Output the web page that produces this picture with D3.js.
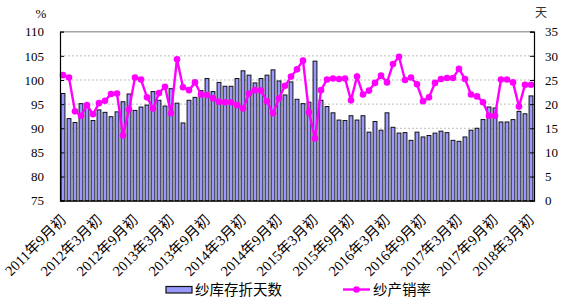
<!DOCTYPE html>
<html>
<head>
<meta charset="utf-8">
<script src="https://cdn.jsdelivr.net/npm/d3@7"></script>
<style>
  body { margin: 0; background: #fff; }
  svg { display: block; }
</style>
</head>
<body>
<svg id="chart" width="565" height="301"></svg>
<script>
"use strict";

// monthly, 2011-09 .. 2018-03
const startYear = 2011, startMonth = 9;
const monthCount = 79;

// 纱库存折天数 (right axis, days)
const inventoryDays = [
    22.2, 17.0, 16.2, 20.1, 19.3, 16.6, 18.8, 18.3, 17.4, 18.4,
    20.5, 22.1, 18.7, 19.4, 19.8, 22.6, 20.8, 19.6, 23.2, 20.2,
    16.1, 20.8, 21.4, 22.8, 25.3, 22.6, 24.5, 23.7, 23.7, 25.3,
    26.9, 26.0, 24.4, 25.3, 26.0, 27.1, 24.8, 21.9, 24.6, 21.0,
    20.1, 20.4, 28.9, 20.8, 19.5, 18.2, 16.7, 16.6, 17.6, 16.7,
    17.6, 14.2, 16.4, 14.6, 18.2, 15.2, 14.0, 14.1, 12.5, 14.2,
    13.2, 13.5, 14.0, 14.4, 14.1, 12.5, 12.3, 13.2, 14.6, 15.0,
    16.8, 19.4, 19.2, 16.3, 16.3, 16.8, 18.5, 18.0, 21.7
];

// 纱产销率 (left axis, %)
const salesRate = [
    101.0, 100.5, 93.5, 92.6, 94.8, 92.9, 95.2, 95.7, 97.1, 97.2,
    88.5, 93.9, 100.5, 100.1, 96.4, 94.1, 97.3, 98.6, 93.1, 104.3,
    98.5, 97.9, 99.5, 97.0, 96.9, 96.2, 95.5, 95.4, 95.4, 94.8,
    94.1, 97.2, 97.9, 97.8, 95.6, 93.1, 96.2, 98.8, 100.7, 102.2,
    104.0, 93.3, 87.9, 97.9, 100.1, 100.3, 100.2, 100.3, 95.8, 100.7,
    97.0, 97.8, 99.4, 100.9, 99.5, 103.3, 104.8, 100.0, 100.5, 99.1,
    95.6, 96.4, 99.4, 100.2, 100.4, 100.4, 102.3, 100.2, 97.0, 96.6,
    95.4, 92.6, 92.6, 100.1, 100.1, 99.5, 94.5, 99.0, 99.0
];

const leftTicks = [75, 80, 85, 90, 95, 100, 105, 110];
const rightTicks = [0, 5, 10, 15, 20, 25, 30, 35];
const seriesNames = ["纱库存折天数", "纱产销率"];

const months = d3.range(monthCount).map(i => {
    const m = startMonth - 1 + i;
    return `${startYear + Math.floor(m / 12)}年${(m % 12) + 1}月初`;
});
const labelMonths = months.filter((d, i) => i % 6 === 0);

const margin = {left: 60, right: 31, top: 31.7, bottom: 100.3};
const width = 565, height = 301;
const BAR_COLOR = "#9999ff";
const LINE_COLOR = "#ff00ff";
const serif = "'Liberation Serif', 'Times New Roman', 'Noto Sans CJK SC', serif";
const cjk = "'Noto Sans CJK SC', sans-serif";

const svg = d3.select("#chart");

const x = d3.scaleBand()
    .domain(months)
    .range([margin.left, width - margin.right])
    .paddingInner(0.36)
    .paddingOuter(0.18);

const yL = d3.scaleLinear().domain([75, 110]).range([height - margin.bottom, margin.top]);
const yR = d3.scaleLinear().domain([0, 35]).range([height - margin.bottom, margin.top]);

// gridlines
svg.append("g")
    .selectAll("line")
    .data(leftTicks.slice(1, -1))
    .join("line")
    .attr("x1", margin.left).attr("x2", width - margin.right)
    .attr("y1", d => yL(d)).attr("y2", d => yL(d))
    .attr("stroke", "#bdbdbd")
    .attr("stroke-dasharray", "2,2");

// top border
svg.append("line")
    .attr("x1", margin.left).attr("x2", width - margin.right)
    .attr("y1", yL(110)).attr("y2", yL(110))
    .attr("stroke", "#a6a6a6")
    .attr("stroke-width", 1.5);

// bars
svg.append("g")
    .selectAll("rect")
    .data(inventoryDays)
    .join("rect")
    .attr("x", (d, i) => x(months[i]))
    .attr("width", x.bandwidth())
    .attr("y", d => yR(d))
    .attr("height", d => yR(0) - yR(d))
    .attr("fill", BAR_COLOR)
    .attr("stroke", "#111")
    .attr("stroke-width", 1);

// line
const cx = (d, i) => x(months[i]) + x.bandwidth() / 2;
svg.append("path")
    .datum(salesRate)
    .attr("fill", "none")
    .attr("stroke", LINE_COLOR)
    .attr("stroke-width", 2.4)
    .attr("d", d3.line().x(cx).y(d => yL(d)));

svg.append("g")
    .selectAll("circle")
    .data(salesRate)
    .join("circle")
    .attr("cx", cx)
    .attr("cy", d => yL(d))
    .attr("r", 3.3)
    .attr("fill", LINE_COLOR);

// axes
const leftAxis = svg.append("g")
    .attr("transform", `translate(${margin.left},0)`)
    .call(d3.axisLeft(yL).tickValues(leftTicks).tickSize(-4).tickPadding(16));
const rightAxis = svg.append("g")
    .attr("transform", `translate(${width - margin.right},0)`)
    .call(d3.axisRight(yR).tickValues(rightTicks).tickSize(-4).tickPadding(11));
const bottomAxis = svg.append("g")
    .attr("transform", `translate(0,${height - margin.bottom})`)
    .call(d3.axisBottom(x).tickValues(labelMonths).tickSize(0));

[leftAxis, rightAxis, bottomAxis].forEach(g => {
    g.select(".domain").attr("stroke", "#000").attr("stroke-width", 1.2);
    g.selectAll(".tick line").attr("stroke", "#000");
    g.selectAll("text").attr("font-family", serif).attr("font-size", 13).attr("fill", "#000");
});
leftAxis.selectAll(".tick").filter(d => d === 75 || d === 110).select("line").remove();
rightAxis.selectAll(".tick").filter(d => d === 0).select("line").remove();

bottomAxis.selectAll("text")
    .attr("x", 0).attr("y", 0).attr("dy", 0)
    .attr("font-size", 14.5)
    .attr("text-anchor", "end")
    .attr("transform", "translate(4,20) rotate(-45)");

// unit labels
svg.append("text")
    .attr("x", 41).attr("y", 18)
    .attr("text-anchor", "middle")
    .attr("font-family", serif).attr("font-size", 13)
    .text("%");
svg.append("text")
    .attr("x", 541).attr("y", 17)
    .attr("text-anchor", "middle")
    .attr("font-family", cjk).attr("font-size", 12).attr("fill", "#333")
    .text("天");

// legend
const legend = svg.append("g").attr("font-family", cjk).attr("font-size", 14.5);
legend.append("rect")
    .attr("x", 166).attr("y", 286.5).attr("width", 26).attr("height", 6.5)
    .attr("fill", BAR_COLOR).attr("stroke", "#111").attr("stroke-width", 1.2);
legend.append("text").attr("x", 195).attr("y", 295).text(seriesNames[0]);
legend.append("line")
    .attr("x1", 343).attr("x2", 370).attr("y1", 289.5).attr("y2", 289.5)
    .attr("stroke", LINE_COLOR).attr("stroke-width", 2.4);
legend.append("circle").attr("cx", 356.5).attr("cy", 289.5).attr("r", 3.3).attr("fill", LINE_COLOR);
legend.append("text").attr("x", 373).attr("y", 295).text(seriesNames[1]);
</script>
</body>
</html>
